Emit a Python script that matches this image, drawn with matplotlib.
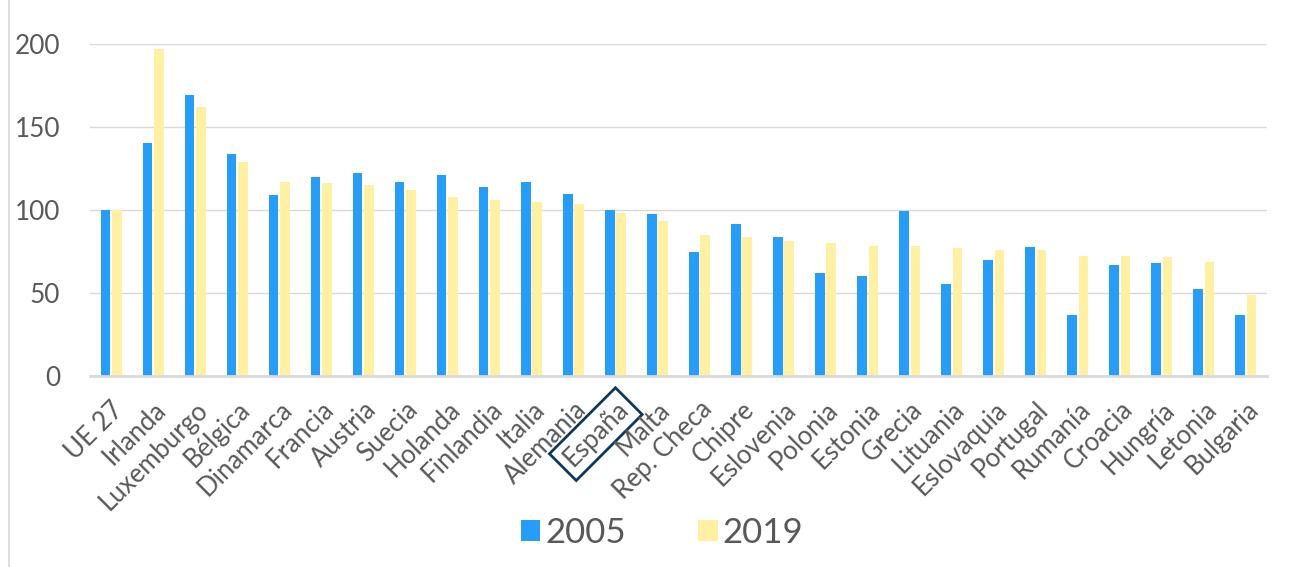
import numpy as np
import matplotlib
matplotlib.use("Agg")
import matplotlib.pyplot as plt
from matplotlib.lines import Line2D

# Data (index, UE 27 = 100)
COUNTRIES = ["UE 27", "Irlanda", "Luxemburgo", "Bélgica", "Dinamarca", "Francia",
             "Austria", "Suecia", "Holanda", "Finlandia", "Italia", "Alemania",
             "España", "Malta", "Rep. Checa", "Chipre", "Eslovenia", "Polonia",
             "Estonia", "Grecia", "Lituania", "Eslovaquia", "Portugal", "Rumanía",
             "Croacia", "Hungría", "Letonia", "Bulgaria"]
VALUES_2005 = [100, 140.5, 169, 133.5, 109, 120, 122, 116.7, 121, 114, 116.7, 109.4,
               100, 97.6, 75, 91.6, 84, 62, 60.2, 99.2, 55.4, 70, 77.5, 36.5,
               67, 68.3, 52.4, 36.7]
VALUES_2019 = [100, 196.8, 161.8, 129, 116.7, 116.5, 115.3, 112, 107.8, 106.2, 104.8, 103.4,
               98, 93.2, 85, 83.5, 81.5, 80, 78.5, 78.3, 77.1, 76, 76, 72.3,
               72.3, 71.5, 68.5, 48.8]
YTICKS = [0, 50, 100, 150, 200]
SERIES = ["2005", "2019"]

BLUE = "#289DF8"
YELLOW = "#FFF0A3"
TEXT = "#595959"
GRID = "#D9D9D9"

plt.rcParams["font.family"] = ["Lato", "DejaVu Sans"]

fig = plt.figure(figsize=(12.95, 5.67), dpi=100)
ax = fig.add_axes([90 / 1295, 1 - 376 / 567, (1267 - 90) / 1295, (376 - 44) / 567])

x = np.arange(len(COUNTRIES))
w = 0.23
off = 0.135
ax.bar(x - off, VALUES_2005, w, color=BLUE, label=SERIES[0], zorder=3)
ax.bar(x + off, VALUES_2019, w, color=YELLOW, label=SERIES[1], zorder=3)

ax.set_xlim(-0.5, len(COUNTRIES) - 0.5)
ax.set_ylim(0, 200)
ax.set_yticks(YTICKS)
ax.yaxis.grid(True, color=GRID, linewidth=1, zorder=0)
ax.tick_params(axis="y", length=0, pad=21.5, labelsize=18.8, labelcolor=TEXT)

ax.set_xticks(x)
ax.set_xticklabels(COUNTRIES, rotation=45, ha="right", va="top",
                   rotation_mode="anchor", fontsize=18.5, color=TEXT)
ax.tick_params(axis="x", length=0, pad=15)

for side in ["top", "right", "left"]:
    ax.spines[side].set_visible(False)
ax.spines["bottom"].set_color(GRID)
ax.spines["bottom"].set_linewidth(2)
ax.spines["bottom"].set_zorder(4)

# highlight Spain
esp = ax.get_xticklabels()[COUNTRIES.index("España")]
esp.set_bbox(dict(boxstyle="square,pad=0.25", fc="none", ec="#0B3A5E", lw=2))

leg = fig.legend(loc="center", bbox_to_anchor=(662 / 1295, 1 - 533 / 567), ncol=2,
                 frameon=False, fontsize=25, handlelength=0.55, handleheight=0.55,
                 handletextpad=0.15, columnspacing=2.1)
for t in leg.get_texts():
    t.set_color(TEXT)

# chart area border on the left
fig.add_artist(Line2D([9 / 1295, 9 / 1295], [0, 1], transform=fig.transFigure,
                      color=GRID, linewidth=1.2))

fig.savefig("out.png", dpi=100)
